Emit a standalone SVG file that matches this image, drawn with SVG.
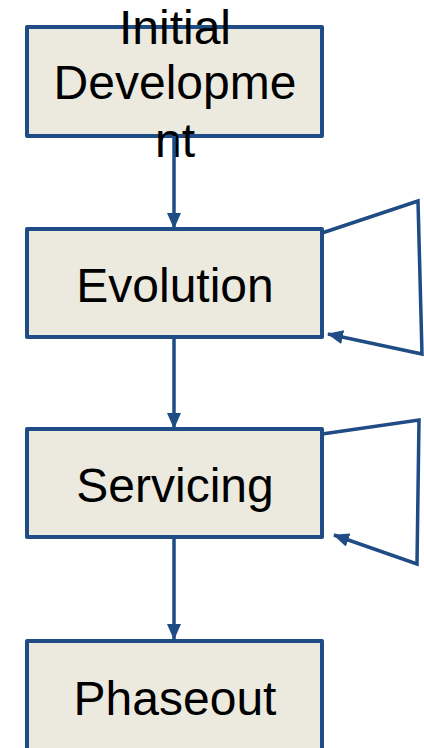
<svg xmlns="http://www.w3.org/2000/svg" width="424" height="748" viewBox="0 0 424 748">
<style>
.box{fill:#ECEADF;stroke:#1F4C84;stroke-width:4;stroke-linejoin:round}
.lbl{font-family:"Liberation Sans",Arial,sans-serif;font-size:48px;fill:#000;text-anchor:middle}
.con{fill:none;stroke:#1F4C84;stroke-width:3.5;stroke-linejoin:miter}
</style>
<defs>
<marker id="ah" markerWidth="16" markerHeight="14" refX="15" refY="7" orient="auto" markerUnits="userSpaceOnUse">
<path d="M0,0 L16,7 L0,14 Z" fill="#1F4C84"/>
</marker>
</defs>
<g id="initial-development">
<rect class="box" x="27" y="27" width="295" height="109"/>
<text class="lbl" x="175" y="44">Initial</text>
<text class="lbl" x="175" y="99">Developme</text>
<text class="lbl" x="175" y="157">nt</text>
</g>
<g id="evolution">
<rect class="box" x="27" y="229" width="295" height="108"/>
<text class="lbl" x="175" y="302">Evolution</text>
</g>
<g id="servicing">
<rect class="box" x="27" y="429" width="295" height="108"/>
<text class="lbl" x="175" y="502">Servicing</text>
</g>
<g id="phaseout">
<rect class="box" x="27" y="641" width="295" height="130"/>
<text class="lbl" x="175" y="715">Phaseout</text>
</g>
<g id="connectors">
<path class="con" d="M174,136 L174,228" marker-end="url(#ah)"/>
<path class="con" d="M174,337 L174,428" marker-end="url(#ah)"/>
<path class="con" d="M174,537 L174,639" marker-end="url(#ah)"/>
<path class="con" d="M322,233 L418,201 L422,354 L328,334" marker-end="url(#ah)"/>
<path class="con" d="M322,434 L419,420 L417,564 L334,535" marker-end="url(#ah)"/>
</g>
</svg>
